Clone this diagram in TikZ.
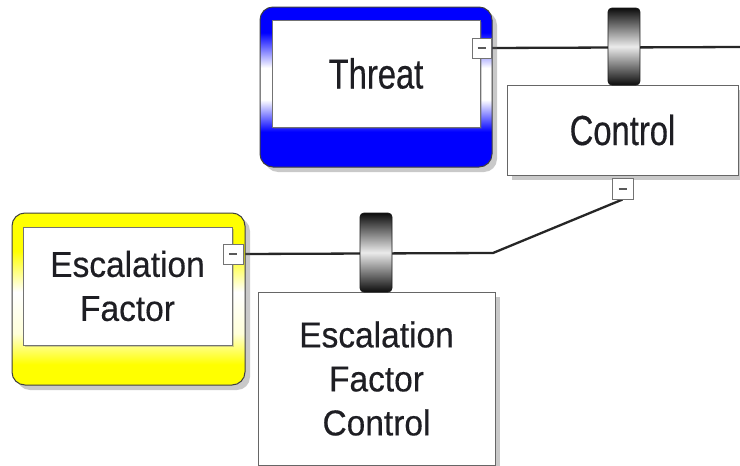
\documentclass[tikz,border=0pt]{standalone}
\usepackage{fontspec}
\setmainfont{Liberation Sans}
\newfontfamily\fbig[FakeStretch=0.78,FakeBold=0.4]{Liberation Sans}
\newfontfamily\fsmall[FakeStretch=0.93,FakeBold=0.4]{Liberation Sans}
\usetikzlibrary{shadows,backgrounds}
\pgfdeclareverticalshading{threatshade}{100bp}{color(0bp)=(blue); color(25bp)=(blue); color(36bp)=(blue); color(46bp)=(white); color(56bp)=(white); color(67bp)=(blue); color(75bp)=(blue); color(100bp)=(blue)}
\pgfdeclareverticalshading{yellowshade}{100bp}{color(0bp)=(yellow); color(25bp)=(yellow); color(31bp)=(yellow); color(40bp)=(yellow!15); color(52bp)=(white); color(64bp)=(yellow); color(75bp)=(yellow); color(100bp)=(yellow)}
\definecolor{txt}{RGB}{30,30,35}
\tikzset{
  box/.style={rectangle, anchor=north west, inner sep=0pt, outer sep=0pt},
  outerbox/.style={box, draw=black!75, line width=1pt, rounded corners=13pt,
    drop shadow={shadow xshift=5pt, shadow yshift=-5pt, opacity=0.35, fill=black!60}},
  innerbox/.style={box, draw=black!55, line width=1pt, fill=white,
    drop shadow={shadow xshift=2pt, shadow yshift=-2pt, opacity=0.3, fill=black!60}},
  ctrlbox/.style={box, draw=black!60, line width=1pt, fill=white,
    drop shadow={shadow xshift=5pt, shadow yshift=-5pt, opacity=0.35, fill=black!60}},
  barrier/.style={box, draw=black!90, line width=0.8pt, rounded corners=4pt,
    top color=black!95, bottom color=black!95, middle color=white!92!black},
  minusbox/.style={rectangle, draw=black!55, line width=0.9pt, fill=white, inner sep=0pt, outer sep=0pt},
  minusmark/.style={draw=black!65, line width=1.2pt},
  conn/.style={draw=black!85, line width=2.3pt},
  bigtext/.style={font=\fbig\fontsize{42}{48}\selectfont, text=txt, align=center},
  smalltext/.style={font=\fsmall\fontsize{36}{44}\selectfont, text=txt, align=center}
}
\begin{document}
\begin{tikzpicture}[x=1pt,y=-1pt]
\useasboundingbox (0,0) rectangle (740,466);
% Threat
\node[outerbox, shading=threatshade, minimum width=232pt, minimum height=160pt] (threat) at (260,7) {};
\node[innerbox, bigtext, minimum width=208pt, minimum height=107pt] (threatin) at (272,20) {Threat};
% Escalation factor
\node[outerbox, shading=yellowshade, minimum width=233pt, minimum height=172pt] (ef) at (12,213) {};
\node[innerbox, smalltext, minimum width=209pt, minimum height=118pt] (efin) at (23,227) {Escalation\\Factor};
% Control
\node[ctrlbox, bigtext, minimum width=231pt, minimum height=90pt] (control) at (507,85) {Control};
% Escalation factor control
\node[ctrlbox, smalltext, minimum width=237pt, minimum height=173pt] (efc) at (258,292) {Escalation\\Factor\\Control};
% barriers
\node[barrier, minimum width=32pt, minimum height=77pt] (b1) at (608,8) {};
\node[barrier, minimum width=32pt, minimum height=79pt] (b2) at (360,213) {};
% minus boxes
\node[minusbox, minimum width=19pt, minimum height=20pt] (m1) at (481.5,48) {};
\node[minusbox, minimum width=21pt, minimum height=21pt] (m2) at (622.5,189) {};
\node[minusbox, minimum width=20pt, minimum height=20pt] (m3) at (233,254) {};
\draw[minusmark] ([xshift=-4pt]m1.center) -- ([xshift=4pt]m1.center);
\draw[minusmark] ([xshift=-4pt]m2.center) -- ([xshift=4pt]m2.center);
\draw[minusmark] ([xshift=-4pt]m3.center) -- ([xshift=4pt]m3.center);
\coordinate (rend) at (740,47);
\coordinate (bend) at (493,253);
\begin{pgfonlayer}{background}
\fill[white] (0,0) rectangle (740,466);
\draw[conn] (m1.east) -- (rend);
\draw[conn] (m2.south) -- (bend) -- (m3.east);
\end{pgfonlayer}
\end{tikzpicture}
\end{document}
